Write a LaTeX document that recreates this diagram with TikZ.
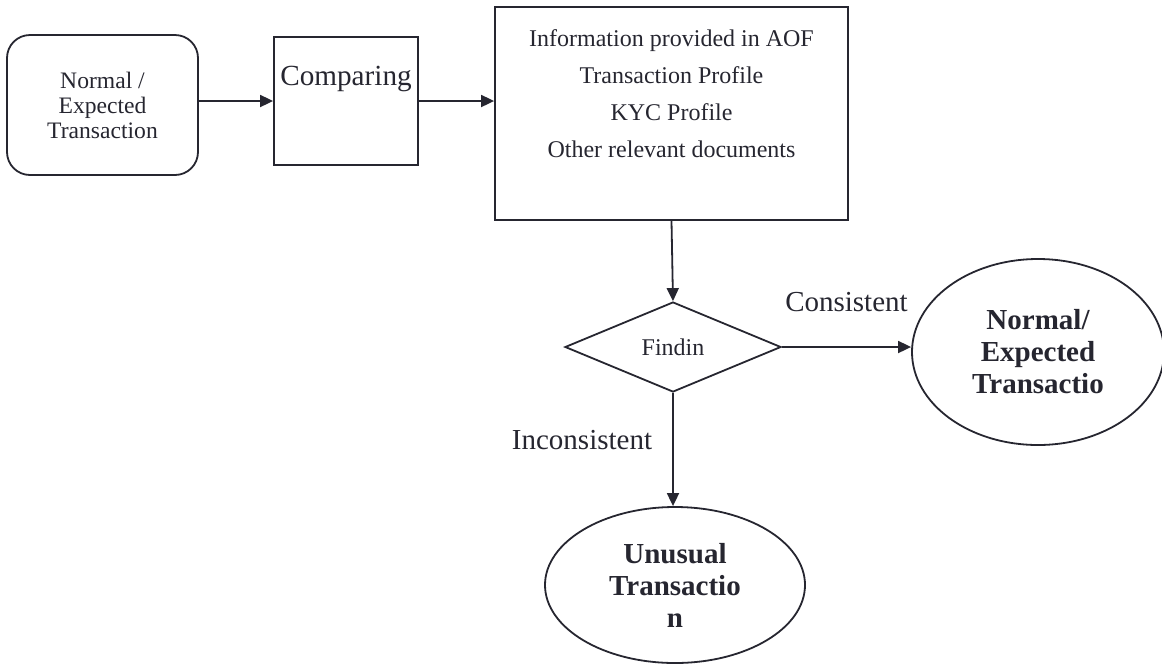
\documentclass[tikz,border=0pt]{standalone}
\usepackage{fontspec}
\setmainfont{Liberation Serif}
\usepackage{xcolor}
\usetikzlibrary{shapes.geometric,positioning,calc,arrows.meta}

\definecolor{inkline}{RGB}{38,38,48}

\begin{document}
\begin{tikzpicture}[x=0.5pt, y=-0.5pt, color=inkline, line width=0.9pt,
    flow/.style={-{Triangle[length=6.5pt,width=6pt]}},
    roundbox/.style={draw, rectangle, rounded corners=11.5pt, align=center, inner sep=0pt,
      minimum width=95.5pt, minimum height=70pt, font=\fontsize{11.8}{12.5}\selectfont},
    plainbox/.style={draw, rectangle, inner sep=0pt},
    decision/.style={draw, diamond, inner sep=0pt, minimum width=108pt, minimum height=45pt,
      font=\fontsize{12}{14}\selectfont},
    outcome/.style={draw, ellipse, inner sep=0pt, align=center,
      font=\bfseries\fontsize{14.5}{16}\selectfont},
    edgelabel/.style={inner sep=0pt, font=\fontsize{14.5}{16}\selectfont}]
  \useasboundingbox (0,0) rectangle (1162,665);

  % Boxes
  \node[roundbox] (expected) at (102.5,105) {Normal /\\Expected\\Transaction};
  \node[plainbox, minimum width=72pt, text height=24pt, text depth=40pt,
    font=\fontsize{14.6}{16}\selectfont] (cmp) at (346,101) {Comparing};
  \node[plainbox, minimum width=176.5pt, minimum height=106.5pt] (info) at (671.5,113.5) {};
  \node[align=center, inner sep=0pt, font=\fontsize{12}{18.5}\selectfont] (infolist) at (671.5,94)
    {Information provided in AOF\\Transaction Profile\\KYC Profile\\Other relevant documents};

  % Decision and outcomes
  \node[decision] (find) at (673,347) {Findin};
  \node[outcome, minimum width=126pt, minimum height=93pt] (normend) at (1038,352)
    {Normal/\\Expected\\Transactio};
  \node[outcome, minimum width=130pt, minimum height=78pt] (unusual) at (675,585)
    {Unusual\\Transactio\\n};

  % Top row arrows
  \draw[flow] (expected.east |- cmp.west) -- (cmp.west);
  \draw[flow] (cmp.east) -- (cmp.east -| info.west);
  \draw[flow] (info.south) -- (find.north);

  % Findings to outcomes
  \draw[flow] (find.east) -- node[edgelabel, above=17pt] {Consistent} (find.east -| normend.west);
  \draw[flow] (find.south) -- node[edgelabel, pos=0.42, left=10pt] {Inconsistent} (find.south |- unusual.north);
\end{tikzpicture}
\end{document}
